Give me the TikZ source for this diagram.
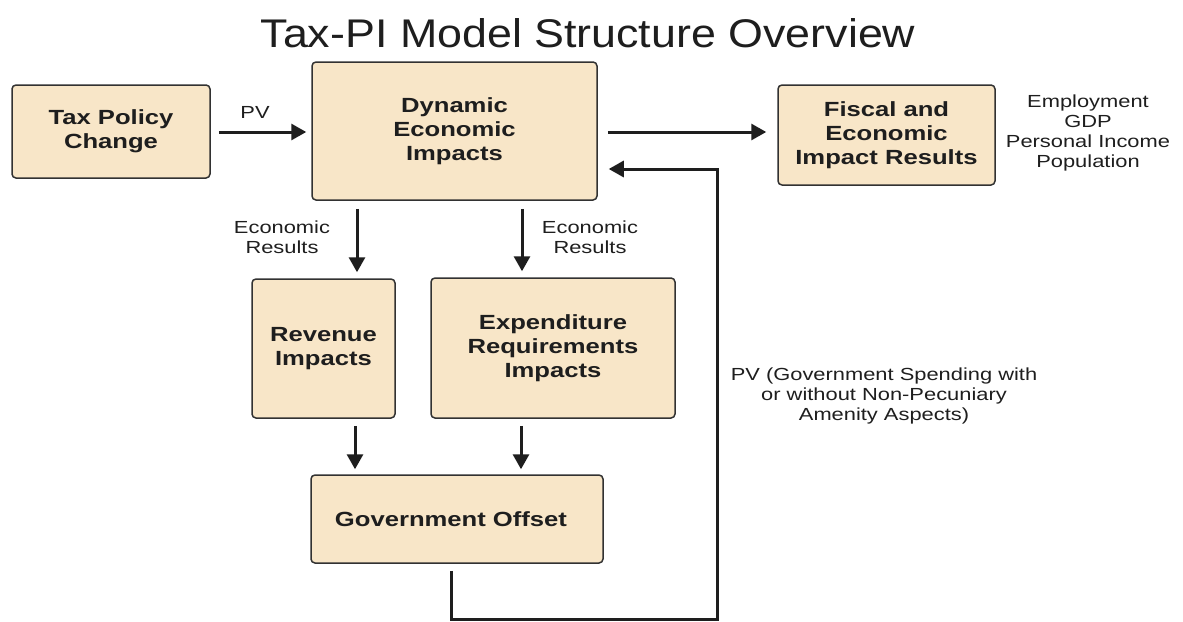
\documentclass[tikz,border=0pt]{standalone}
\usepackage{fontspec}
\setmainfont{Liberation Sans}[FakeStretch=1.25]
\newfontfamily\mytitlefam{Liberation Sans}[FakeStretch=1.12]
\usetikzlibrary{arrows.meta}
\definecolor{boxfill}{RGB}{248,230,200}
\definecolor{boxline}{RGB}{50,50,50}
\definecolor{ink}{RGB}{30,30,30}
\newcommand\myboxfont{\fontsize{20.5}{24}\selectfont\bfseries}
\newcommand\mylblfont{\fontsize{17.5}{20}\selectfont}
\newcommand\mytitlefont{\mytitlefam\fontsize{40}{44}\selectfont}
\begin{document}
\begin{tikzpicture}[x=1pt,y=-1pt,
  box/.style={draw=boxline, fill=boxfill, line width=1.5pt, rounded corners=4pt,
    inner sep=0pt, font=\myboxfont, text=ink, align=center},
  lbl/.style={font=\mylblfont, text=ink, align=center, inner sep=0pt},
  arr/.style={draw=ink, line width=3pt, -{Triangle[length=15pt,width=16pt]}},
]
\useasboundingbox[fill=white] (0,0) rectangle (1183,621);

\node[font=\mytitlefont, text=ink, anchor=base, inner sep=0pt] (title) at (588,47) {Tax-PI Model Structure Overview};

\node[box, minimum width=198pt, minimum height=93pt] (tax) at (111,131.5) {Tax Policy\\Change};
\node[box, minimum width=285pt, minimum height=138pt] (dyn) at (454.5,131) {Dynamic\\Economic\\Impacts};
\node[box, minimum width=217pt, minimum height=100pt] (fis) at (886.5,135) {Fiscal and\\Economic\\Impact Results};
\node[box, minimum width=143pt, minimum height=139pt] (rev) at (323.5,348.5) {Revenue\\Impacts};
\node[box, minimum width=244pt, minimum height=140pt] (exp) at (553,348) {Expenditure\\Requirements\\Impacts};
\node[box, minimum width=292pt, minimum height=88pt] (gov) at (457,519) {Government Offset\hspace*{12pt}};

\node[lbl] (pv1) at (255,112) {PV};
\node[lbl] (er1) at (282,237) {Economic\\Results};
\node[lbl] (er2) at (590,237) {Economic\\Results};
\node[lbl] (pv2) at (884,396) {PV (Government Spending with\\or without Non-Pecuniary\\Amenity Aspects)};
\node[lbl] (res) at (1088,133) {Employment\\GDP\\Personal Income\\Population};

\draw[arr, shorten <=8pt, shorten >=5pt] ([yshift=-0.5pt]tax.east) -- ([yshift=-0.5pt]tax.east -| dyn.west);
\draw[arr, shorten <=10pt, shorten >=11pt] ([yshift=-1pt]dyn.east) -- ([yshift=-1pt]dyn.east -| fis.west);
\draw[arr, shorten <=8pt, shorten >=6pt] ([xshift=33.5pt]rev.north |- dyn.south) -- ([xshift=33.5pt]rev.north);
\draw[arr, shorten <=8pt, shorten >=6pt] ([xshift=-31pt]exp.north |- dyn.south) -- ([xshift=-31pt]exp.north);
\draw[arr, shorten <=7pt, shorten >=5pt] ([xshift=31.5pt]rev.south) -- ([xshift=31.5pt]rev.south |- gov.north);
\draw[arr, shorten <=7pt, shorten >=5pt] ([xshift=-32pt]exp.south) -- ([xshift=-32pt]exp.south |- gov.north);

\coordinate (fb1) at (451,619);
\coordinate (fb2) at (717,619);
\draw[arr, shorten <=7pt, shorten >=11pt] ([xshift=-6pt]gov.south) -- (fb1) -- (fb2) |- ([yshift=-38pt]dyn.east);
\end{tikzpicture}
\end{document}
